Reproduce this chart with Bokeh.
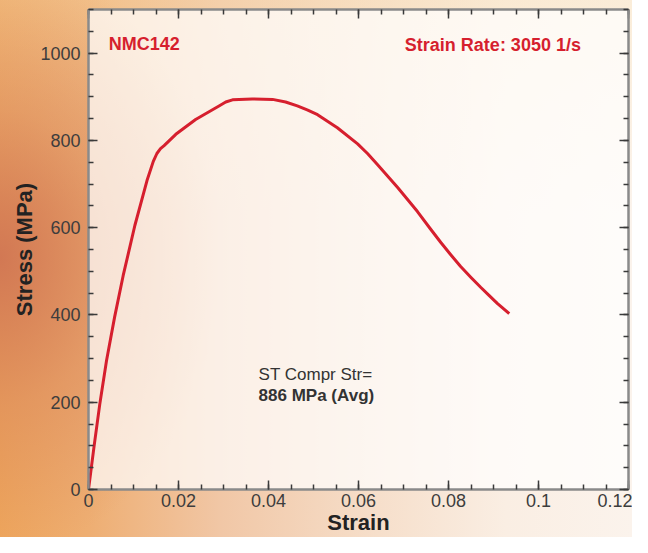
from bokeh.plotting import figure
from bokeh.models import Range1d, LinearAxis, SingleIntervalTicker, CustomJSTickFormatter, Label
from bokeh.embed import file_html
from bokeh.resources import INLINE

# ---- data ----
strain = [0, 0.00125, 0.0025, 0.0040, 0.0058, 0.0077, 0.0103, 0.0130, 0.0144, 0.0152,
          0.0160, 0.0168, 0.0194, 0.0238, 0.0290, 0.0305, 0.0320, 0.0364, 0.0409,
          0.0438, 0.0464, 0.0486, 0.0509, 0.0553, 0.0598, 0.0620, 0.0642, 0.0687,
          0.0731, 0.0760, 0.0783, 0.0805, 0.0827, 0.0850, 0.0872, 0.0890, 0.0909, 0.0935]
stress = [0, 100, 195, 295, 395, 490, 605, 708, 752, 770,
          781, 788, 814, 848, 879, 888, 893, 895, 894,
          888, 879, 870, 859, 829, 792, 770, 745, 692,
          637, 597, 566, 538, 511, 486, 463, 445, 426, 403]

sample_name = "NMC142"
rate_text = "Strain Rate: 3050 1/s"
note_line1 = "ST Compr Str="
note_line2 = "886 MPa (Avg)"
x_label = "Strain"
y_label = "Stress (MPa)"

FONT = "Liberation Sans"
RED = "#d61f2e"

p = figure(width=632, height=537, output_backend="svg", toolbar_location=None,
           x_range=Range1d(0, 0.12), y_range=Range1d(0, 1100),
           min_border_left=88, min_border_right=4, min_border_top=9, min_border_bottom=44)

p.border_fill_color = None
p.background_fill_color = "white"
p.background_fill_alpha = 0.72
p.outline_line_color = None
p.grid.visible = False
p.styles = {
    "background": "radial-gradient(ellipse 35% 55% at 0% 48%, rgba(205,112,82,0.85) 0%, rgba(215,130,90,0.45) 50%, rgba(230,150,100,0) 100%), "
                  "linear-gradient(to bottom, rgba(250,225,180,0.35) 0%, rgba(250,225,180,0) 40%), "
                  "linear-gradient(to right, #eea65c 0%, #eeae72 14%, #f1c7a6 35%, #f6dfcb 60%, #faeee3 80%, #fbf3ec 100%)"
}

fmt = CustomJSTickFormatter(code="return String(parseFloat(tick.toFixed(4)))")
xt = SingleIntervalTicker(interval=0.02, num_minor_ticks=4)
yt = SingleIntervalTicker(interval=200, num_minor_ticks=4)

AXIS_COLOR = "#8a8a8a"
TICK_COLOR = "#3a3a3a"

def style_axis(ax, labels=True):
    ax.axis_line_color = AXIS_COLOR
    ax.axis_line_width = 2.5
    ax.major_tick_in = 9
    ax.major_tick_out = 0
    ax.minor_tick_in = 5
    ax.minor_tick_out = 0
    ax.major_tick_line_color = TICK_COLOR
    ax.major_tick_line_width = 1.5
    ax.minor_tick_line_color = TICK_COLOR
    ax.minor_tick_line_width = 1.5
    if labels:
        ax.major_label_text_font = FONT
        ax.major_label_text_font_size = "18px"
        ax.major_label_text_color = "#3d3d3d"
        ax.axis_label_text_font = FONT
        ax.axis_label_text_font_size = "22px"
        ax.axis_label_text_font_style = "bold"
        ax.axis_label_text_color = "#222222"
    else:
        ax.major_label_text_font_size = "0px"
        ax.major_label_standoff = 0
        ax.major_label_text_alpha = 0

xa = p.xaxis[0]
xa.ticker = xt
xa.formatter = fmt
xa.axis_label = x_label
style_axis(xa)
xa.major_label_standoff = 4
xa.axis_label_standoff = 0

ya = p.yaxis[0]
ya.ticker = yt
ya.formatter = fmt
ya.axis_label = y_label
style_axis(ya)
ya.major_label_standoff = 8
ya.axis_label_standoff = 0

top = LinearAxis(ticker=SingleIntervalTicker(interval=0.02, num_minor_ticks=4))
style_axis(top, labels=False)
p.add_layout(top, "above")
right = LinearAxis(ticker=SingleIntervalTicker(interval=200, num_minor_ticks=4))
style_axis(right, labels=False)
p.add_layout(right, "right")

p.line(strain, stress, line_color=RED, line_width=3, line_join="round")

p.add_layout(Label(x=0.0045, y=1021, text=sample_name, text_font=FONT, text_font_size="18px",
                   text_font_style="bold", text_color=RED, text_baseline="middle"))
p.add_layout(Label(x=0.0703, y=1019, text=rate_text, text_font=FONT, text_font_size="18px",
                   text_font_style="bold", text_color=RED, text_baseline="middle"))
p.add_layout(Label(x=0.0378, y=264, text=note_line1, text_font=FONT, text_font_size="17px",
                   text_color="#333333", text_baseline="middle"))
p.add_layout(Label(x=0.0378, y=215, text=note_line2, text_font=FONT, text_font_size="17px",
                   text_font_style="bold", text_color="#333333", text_baseline="middle"))

open("out.html", "w").write(file_html(p, INLINE))
